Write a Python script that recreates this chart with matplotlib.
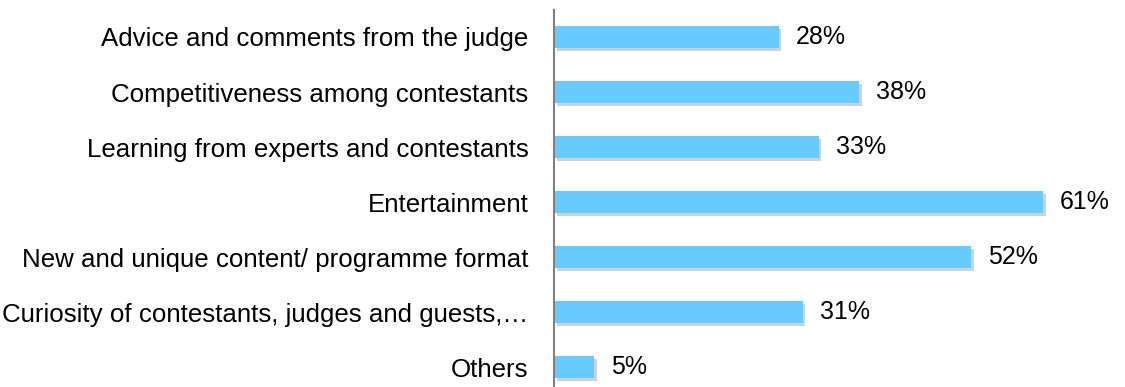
import matplotlib
matplotlib.use("Agg")
import matplotlib.pyplot as plt
import matplotlib.patheffects as pe

categories = [
    "Advice and comments from the judge",
    "Competitiveness among contestants",
    "Learning from experts and contestants",
    "Entertainment",
    "New and unique content/ programme format",
    "Curiosity of contestants, judges and guests,\u2026",
    "Others",
]
values = [28, 38, 33, 61, 52, 31, 5]
value_labels = ["28%", "38%", "33%", "61%", "52%", "31%", "5%"]

plt.rcParams['font.family'] = ['Liberation Sans', 'DejaVu Sans']

fig = plt.figure(figsize=(11.25, 3.87), dpi=100)
W, H = 1125, 387
ax = fig.add_axes([554 / W, 0, (W - 554) / W, (387 - 10) / H])

pos = list(range(len(categories)))
bars = ax.barh(pos, values, height=0.4, color="#66CCFF", zorder=2)
for b in bars:
    b.set_path_effects([pe.SimplePatchShadow(offset=(2, -2), shadow_rgbFace="#000000", alpha=0.18), pe.Normal()])

for p, v, t in zip(pos, values, value_labels):
    ax.annotate(t, (v, p), xytext=(17, 0), textcoords="offset pixels",
                va="center", ha="left", fontsize=18, color="#000000")

ax.set_xlim(0, (W - 554) / 8.02)
ax.set_ylim(6.36, -0.49)
ax.set_yticks(pos)
ax.set_yticklabels(categories, fontsize=18.6)
ax.tick_params(axis="y", length=0, pad=18.5)
ax.set_xticks([])
for s in ["top", "right", "bottom"]:
    ax.spines[s].set_visible(False)
ax.spines["left"].set_color("#808080")
ax.spines["left"].set_linewidth(1.5)

fig.savefig("out.png", dpi=100)
